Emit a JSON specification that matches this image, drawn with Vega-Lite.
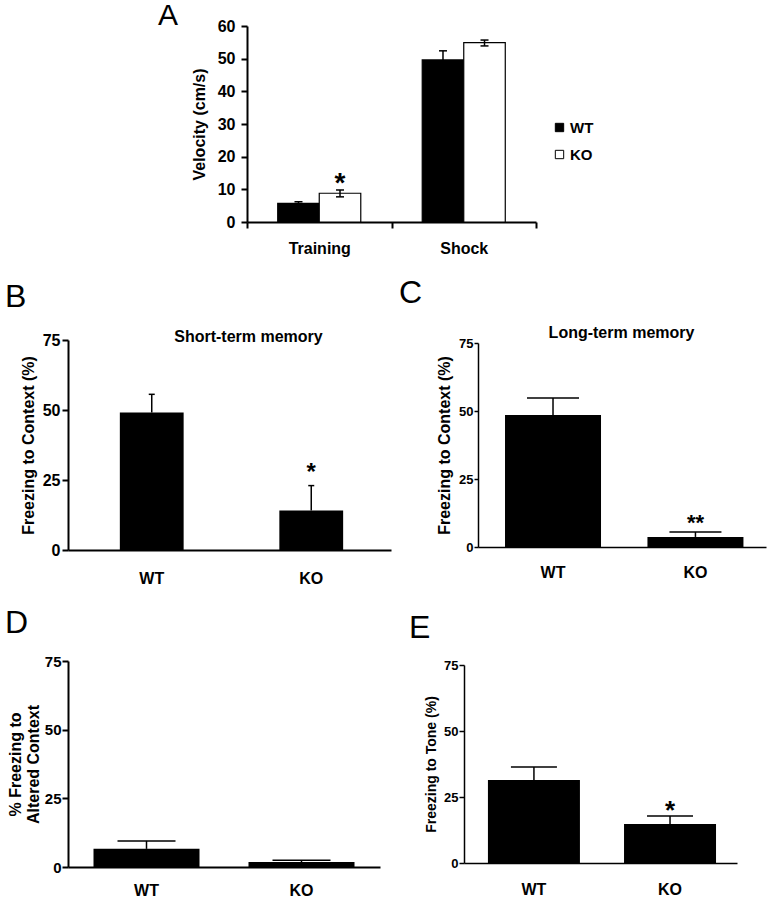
{
  "$schema": "https://vega.github.io/schema/vega-lite/v6.json",
  "padding": {"left": 5, "top": 1, "right": 2, "bottom": 2},
  "background": "white",
  "datasets": {
    "A": [
      {"phase": "Training", "genotype": "WT", "mean": 5.7, "lo": 5.2, "hi": 6.2, "sig": ""},
      {"phase": "Training", "genotype": "KO", "mean": 8.8, "lo": 7.7, "hi": 9.8, "sig": "*"},
      {"phase": "Shock", "genotype": "WT", "mean": 49.6, "lo": 46.8, "hi": 52.4, "sig": ""},
      {"phase": "Shock", "genotype": "KO", "mean": 54.9, "lo": 53.9, "hi": 55.7, "sig": ""}
    ],
    "B": [
      {"genotype": "WT", "mean": 49.1, "hi": 55.6, "sig": ""},
      {"genotype": "KO", "mean": 14.1, "hi": 23.0, "sig": "*"}
    ],
    "C": [
      {"genotype": "WT", "mean": 48.5, "hi": 54.8, "sig": ""},
      {"genotype": "KO", "mean": 3.7, "hi": 5.5, "sig": "**"}
    ],
    "D": [
      {"genotype": "WT", "mean": 6.6, "hi": 9.5},
      {"genotype": "KO", "mean": 1.8, "hi": 2.5}
    ],
    "E": [
      {"genotype": "WT", "mean": 31.4, "hi": 36.4, "sig": ""},
      {"genotype": "KO", "mean": 14.8, "hi": 17.8, "sig": "*"}
    ]
  },
  "config": {
    "font": "Liberation Sans",
    "view": {"stroke": null},
    "axis": {"domainColor": "black", "tickColor": "black", "labelColor": "black", "titleColor": "black", "labelFontWeight": "bold", "titleFontWeight": "bold", "grid": false, "labelOverlap": false, "labelFont": "Liberation Sans", "titleFont": "Liberation Sans"},
    "title": {"color": "black", "font": "Liberation Sans"}
  },
  "spacing": 21,
  "vconcat": [
    {
      "bounds": "flush",
      "spacing": 0,
      "hconcat": [
        {"width": 179, "height": 1, "view": {"fill": "white", "stroke": null}, "data": {"values": []}, "mark": "text"},
        {
          "width": 289,
          "height": 196,
          "title": {"text": "A", "anchor": "start", "frame": "group", "fontSize": 30, "fontWeight": "normal", "dx": -89, "dy": 13, "offset": 0},
          "data": {"name": "A"},
          "encoding": {
            "x": {"field": "phase", "type": "nominal", "sort": ["Training", "Shock"], "scale": {"paddingInner": 0, "paddingOuter": 0},
              "axis": {"title": null, "labelAngle": 0, "tickBand": "extent", "labelFontSize": 16, "labelPadding": 12, "domainWidth": 2, "tickWidth": 2, "tickSize": 6}},
            "xOffset": {"field": "genotype", "type": "nominal", "sort": ["WT", "KO"], "scale": {"paddingInner": 0, "paddingOuter": 0.74}},
            "y": {"field": "mean", "type": "quantitative", "scale": {"domain": [0, 60], "nice": false},
              "axis": {"values": [0, 10, 20, 30, 40, 50, 60], "tickCount": 7, "labelOverlap": false, "title": "Velocity (cm/s)", "titleFontSize": 16, "titlePadding": 10, "labelFontSize": 16, "labelPadding": 6, "tickSize": 6, "tickWidth": 2, "domainWidth": 2}}
          },
          "layer": [
            {
              "mark": {"type": "bar", "stroke": "black", "strokeWidth": 1.2},
              "encoding": {
                "fill": {"field": "genotype", "type": "nominal", "sort": ["WT", "KO"], "scale": {"domain": ["WT", "KO"], "range": ["black", "white"]},
                  "legend": {"title": null, "orient": "none", "legendX": 484, "legendY": 94, "symbolType": "square", "symbolSize": 70, "symbolStrokeColor": "black", "symbolStrokeWidth": 1, "labelFontSize": 15, "labelFontWeight": "bold", "labelColor": "black", "labelFont": "Liberation Sans", "rowPadding": 11, "labelOffset": 3}}
              }
            },
            {"mark": {"type": "rule", "color": "black", "strokeWidth": 1.5}, "encoding": {"y": {"field": "lo", "type": "quantitative"}, "y2": {"field": "hi"}}},
            {"mark": {"type": "tick", "color": "black", "thickness": 1.5, "size": 8, "opacity": 1}, "encoding": {"y": {"field": "hi", "type": "quantitative"}}},
            {"mark": {"type": "tick", "color": "black", "thickness": 1.5, "size": 8, "opacity": 1}, "encoding": {"y": {"field": "lo", "type": "quantitative"}}},
            {"mark": {"type": "text", "fontSize": 28, "fontWeight": "bold", "baseline": "alphabetic", "dy": 2, "color": "black"}, "encoding": {"y": {"field": "hi", "type": "quantitative"}, "text": {"field": "sig"}}}
          ]
        }
      ]
    },
    {
      "bounds": "flush",
      "center": true,
      "spacing": 87,
      "hconcat": [
        {
          "width": 323,
          "height": 210,
          "title": {"text": "B", "anchor": "start", "frame": "group", "fontSize": 32, "fontWeight": "normal", "dx": -63, "dy": -14, "offset": 0},
          "data": {"name": "B"},
          "resolve": {"axis": {"x": "independent"}},
          "layer": [
            {"mark": {"type": "bar", "color": "black"},
              "encoding": {
                "x": {"field": "genotype", "type": "nominal", "sort": ["WT", "KO"], "scale": {"paddingInner": 0.6, "paddingOuter": 0.3125, "align": 0.52},
                  "axis": {"title": null, "labelAngle": 0, "ticks": false, "labelFontSize": 16, "labelPadding": 20, "domainWidth": 2}},
                "y": {"field": "mean", "type": "quantitative", "scale": {"domain": [0, 75], "nice": false},
                  "axis": {"values": [0, 25, 50, 75], "title": "Freezing to Context (%)", "titleFontSize": 16, "titlePadding": 6, "labelFontSize": 16, "labelPadding": 2, "tickSize": 6, "tickWidth": 2, "domainWidth": 2}}}},
            {"mark": {"type": "rule", "color": "black", "strokeWidth": 1.5},
              "encoding": {
                "x": {"field": "genotype", "type": "nominal", "sort": ["WT", "KO"],
                  "axis": {"orient": "top", "title": "Short-term memory", "labels": false, "ticks": false, "domain": false, "titleFontSize": 16, "titleX": 180, "titleY": 1, "titleAlign": "center", "titleBaseline": "alphabetic"}},
                "y": {"field": "mean", "type": "quantitative"}, "y2": {"field": "hi"}}},
            {"mark": {"type": "tick", "color": "black", "thickness": 1.5, "size": 6, "opacity": 1},
              "encoding": {"x": {"field": "genotype", "type": "nominal", "sort": ["WT", "KO"], "axis": null}, "y": {"field": "hi", "type": "quantitative"}}},
            {"mark": {"type": "text", "fontSize": 24, "fontWeight": "bold", "baseline": "alphabetic", "dy": -6, "color": "black"},
              "encoding": {"x": {"field": "genotype", "type": "nominal", "sort": ["WT", "KO"], "axis": null}, "y": {"field": "hi", "type": "quantitative"}, "text": {"field": "sig"}}}
          ]
        },
        {
          "width": 288,
          "height": 204,
          "title": {"text": "C", "anchor": "start", "frame": "group", "fontSize": 32, "fontWeight": "normal", "dx": -79, "dy": -14, "offset": 0},
          "data": {"name": "C"},
          "resolve": {"axis": {"x": "independent"}},
          "layer": [
            {"mark": {"type": "bar", "color": "black"},
              "encoding": {
                "x": {"field": "genotype", "type": "nominal", "sort": ["WT", "KO"], "scale": {"paddingInner": 0.326, "paddingOuter": 0.174, "align": 0.545},
                  "axis": {"title": null, "labelAngle": 0, "ticks": false, "labelFontSize": 16, "labelPadding": 17, "domainWidth": 1.5}},
                "y": {"field": "mean", "type": "quantitative", "scale": {"domain": [0, 75], "nice": false},
                  "axis": {"values": [0, 25, 50, 75], "title": "Freezing to Context (%)", "titleFontSize": 16, "titlePadding": 6, "labelFontSize": 13, "labelPadding": 1, "tickSize": 4, "tickWidth": 1.5, "domainWidth": 1.5}}}},
            {"mark": {"type": "rule", "color": "black", "strokeWidth": 1.5},
              "encoding": {
                "x": {"field": "genotype", "type": "nominal", "sort": ["WT", "KO"],
                  "axis": {"orient": "top", "title": "Long-term memory", "labels": false, "ticks": false, "domain": false, "titleFontSize": 16, "titleX": 143, "titleY": -6, "titleAlign": "center", "titleBaseline": "alphabetic"}},
                "y": {"field": "mean", "type": "quantitative"}, "y2": {"field": "hi"}}},
            {"mark": {"type": "tick", "color": "black", "thickness": 1.5, "size": 52, "opacity": 1},
              "encoding": {"x": {"field": "genotype", "type": "nominal", "sort": ["WT", "KO"], "axis": null}, "y": {"field": "hi", "type": "quantitative"}}},
            {"mark": {"type": "text", "fontSize": 22, "fontWeight": "bold", "baseline": "alphabetic", "dy": -2, "color": "black"},
              "encoding": {"x": {"field": "genotype", "type": "nominal", "sort": ["WT", "KO"], "axis": null}, "y": {"field": "hi", "type": "quantitative"}, "text": {"field": "sig"}}}
          ]
        }
      ]
    },
    {
      "bounds": "flush",
      "center": true,
      "spacing": 84,
      "hconcat": [
        {
          "width": 312,
          "height": 206,
          "title": {"text": "D", "anchor": "start", "frame": "group", "fontSize": 32, "fontWeight": "normal", "dx": -63, "dy": -14, "offset": 0},
          "data": {"name": "D"},
          "encoding": {
            "x": {"field": "genotype", "type": "nominal", "sort": ["WT", "KO"], "scale": {"paddingInner": 0.316, "paddingOuter": 0.1645, "align": 0.5},
              "axis": {"title": null, "labelAngle": 0, "ticks": false, "labelFontSize": 16, "labelPadding": 15, "domainWidth": 2}}
          },
          "layer": [
            {"mark": {"type": "bar", "color": "black"},
              "encoding": {"y": {"field": "mean", "type": "quantitative", "scale": {"domain": [0, 75], "nice": false},
                "axis": {"values": [0, 25, 50, 75], "title": ["% Freezing to", "Altered Context"], "titleFontSize": 16, "titleLineHeight": 18, "titlePadding": 3, "labelFontSize": 15, "labelPadding": 1, "tickSize": 6, "tickWidth": 2, "domainWidth": 2}}}},
            {"mark": {"type": "rule", "color": "black", "strokeWidth": 1.5}, "encoding": {"y": {"field": "mean", "type": "quantitative"}, "y2": {"field": "hi"}}},
            {"mark": {"type": "tick", "color": "black", "thickness": 1.5, "size": 58, "opacity": 1}, "encoding": {"y": {"field": "hi", "type": "quantitative"}}}
          ]
        },
        {
          "width": 273,
          "height": 198,
          "title": {"text": "E", "anchor": "start", "frame": "group", "fontSize": 32, "fontWeight": "normal", "dx": -55, "dy": -14, "offset": 0},
          "data": {"name": "E"},
          "encoding": {
            "x": {"field": "genotype", "type": "nominal", "sort": ["WT", "KO"], "scale": {"paddingInner": 0.324, "paddingOuter": 0.165, "align": 0.533},
              "axis": {"title": null, "labelAngle": 0, "ticks": false, "labelFontSize": 16, "labelPadding": 18, "domainWidth": 1.5}}
          },
          "layer": [
            {"mark": {"type": "bar", "color": "black"},
              "encoding": {"y": {"field": "mean", "type": "quantitative", "scale": {"domain": [0, 75], "nice": false},
                "axis": {"values": [0, 25, 50, 75], "title": "Freezing to Tone (%)", "titleFontSize": 14, "titlePadding": 5, "labelFontSize": 13, "labelPadding": 1, "tickSize": 5, "tickWidth": 1.5, "domainWidth": 1.5}}}},
            {"mark": {"type": "rule", "color": "black", "strokeWidth": 1.5}, "encoding": {"y": {"field": "mean", "type": "quantitative"}, "y2": {"field": "hi"}}},
            {"mark": {"type": "tick", "color": "black", "thickness": 1.5, "size": 46, "opacity": 1}, "encoding": {"y": {"field": "hi", "type": "quantitative"}}},
            {"mark": {"type": "text", "fontSize": 26, "fontWeight": "bold", "baseline": "alphabetic", "dy": 3, "color": "black"}, "encoding": {"y": {"field": "hi", "type": "quantitative"}, "text": {"field": "sig"}}}
          ]
        }
      ]
    }
  ]
}
